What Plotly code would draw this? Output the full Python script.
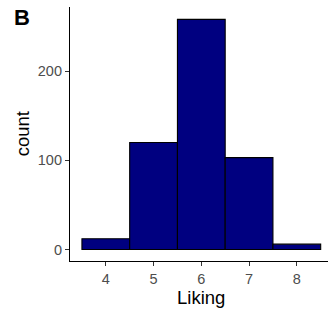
import plotly.graph_objects as go

liking = [4, 5, 6, 7, 8]
counts = [12, 120, 258, 103, 6]
x_ticks = [4, 5, 6, 7, 8]
y_ticks = [0, 100, 200]

fig = go.Figure()
fig.add_trace(go.Bar(
    x=liking, y=counts, width=1,
    marker=dict(color="#000080", line=dict(color="black", width=1.1)),
    hoverinfo="skip",
))

W, H = 328, 318
L, T, B = 70, 6.5, 57.2
fig.update_layout(
    width=W, height=H,
    margin=dict(l=L, r=0, t=T, b=B, pad=0),
    paper_bgcolor="white", plot_bgcolor="white",
    showlegend=False,
    font=dict(family="Liberation Sans, Arial, sans-serif"),
    xaxis=dict(
        range=[3.25, 8.653], tickvals=x_ticks, ticktext=[str(v) for v in x_ticks],
        showline=True, linecolor="black", linewidth=1.1, mirror=False,
        ticks="outside", ticklen=4, tickwidth=1, tickcolor="#333333",
        tickfont=dict(size=14.5, color="#4D4D4D"),
        showgrid=False, zeroline=False, fixedrange=True,
    ),
    yaxis=dict(
        range=[-12.9, 271.9], tickvals=y_ticks,
        showline=True, linecolor="black", linewidth=1.1,
        ticks="outside", ticklen=4, tickwidth=1, tickcolor="#333333",
        tickfont=dict(size=14.5, color="#4D4D4D"),
        showgrid=False, zeroline=False, fixedrange=True,
    ),
    annotations=[
        dict(text="<b>B</b>", x=12, y=H - 17, xref="paper", yref="paper",
             showarrow=False, font=dict(size=22, color="black"),
             xanchor="left", yanchor="middle"),
        dict(text="Liking", x=6.0, xref="x", y=H - 297, yref="paper",
             showarrow=False, font=dict(size=18.5, color="black"),
             xanchor="center", yanchor="middle"),
        dict(text="count", x=22, xref="paper", y=H - 134, yref="paper",
             showarrow=False, font=dict(size=18.5, color="black"), textangle=-90,
             xanchor="center", yanchor="middle"),
    ],
)
pw = W - L
ph = H - T - B
for a in fig.layout.annotations:
    if a.xref == "paper":
        a.x = (a.x - L) / pw
    if a.yref == "paper":
        a.y = (a.y - B) / ph

fig.write_html("out.html", config={"displayModeBar": False, "staticPlot": True},
               post_script="document.body.style.margin='0';document.body.style.overflow='hidden';")
